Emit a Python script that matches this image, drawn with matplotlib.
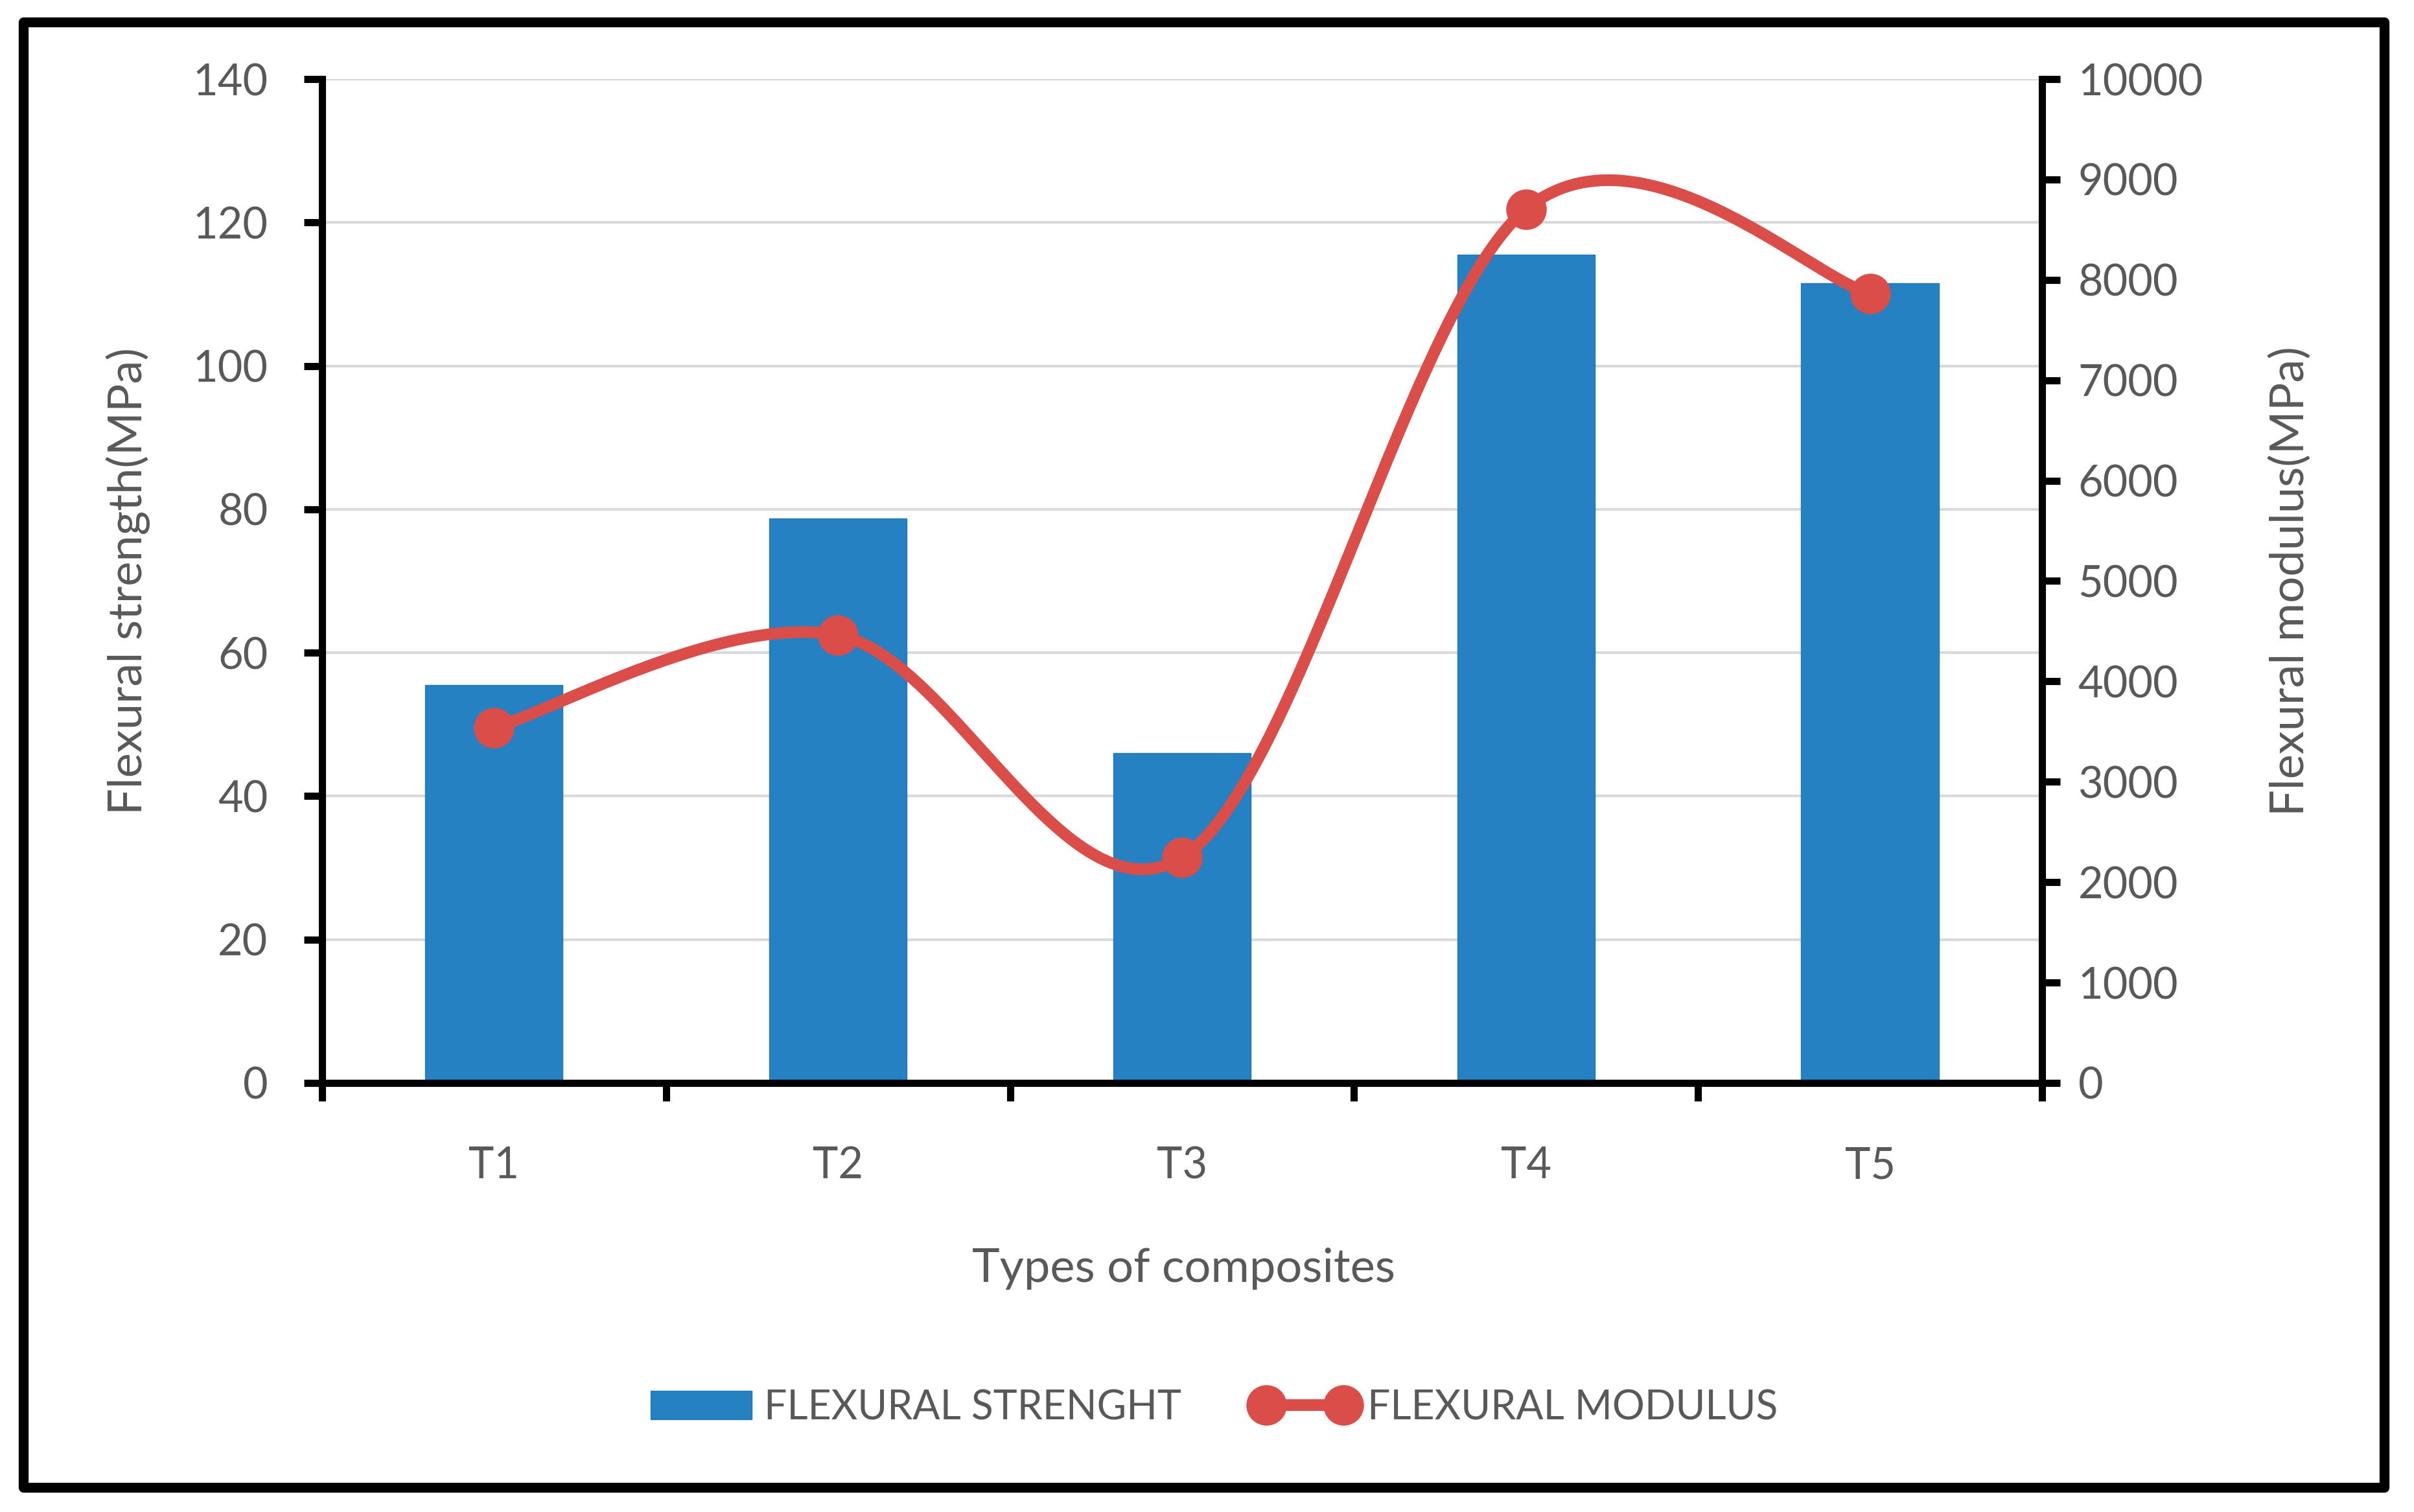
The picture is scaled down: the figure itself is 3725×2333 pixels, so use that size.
import numpy as np
import matplotlib
matplotlib.use('Agg')
import matplotlib.pyplot as plt
from matplotlib.patches import Rectangle
from matplotlib.lines import Line2D
from matplotlib.patches import Patch

categories = ['T1', 'T2', 'T3', 'T4', 'T5']
strength = [55.5, 78.7, 46.0, 115.5, 111.5]
modulus = [3540, 4460, 2245, 8705, 7865]

plt.rcParams['font.family'] = ['Lato', 'DejaVu Sans']
grey = '#595959'
blue = '#2581C1'
red = '#DB4D48'


def smooth(xs, ys, n=60):
    # excel style smoothed line (cubic bezier through the points)
    xs = np.asarray(xs, float)
    ys = np.asarray(ys, float)
    px = np.concatenate([[xs[0]], xs, [xs[-1]]])
    py = np.concatenate([[ys[0]], ys, [ys[-1]]])
    outx, outy = [], []
    t = np.linspace(0, 1, n)
    for i in range(1, len(px) - 2):
        p0 = np.array([px[i], py[i]])
        p3 = np.array([px[i + 1], py[i + 1]])
        c1 = p0 + (np.array([px[i + 1], py[i + 1]]) - np.array([px[i - 1], py[i - 1]])) / 6
        c2 = p3 - (np.array([px[i + 2], py[i + 2]]) - p0) / 6
        b = ((1 - t) ** 3)[:, None] * p0 + (3 * (1 - t) ** 2 * t)[:, None] * c1 \
            + (3 * (1 - t) * t ** 2)[:, None] * c2 + (t ** 3)[:, None] * p3
        outx.extend(b[:, 0])
        outy.extend(b[:, 1])
    return outx, outy


fig = plt.figure(figsize=(37.25, 23.33), dpi=100)
ax = fig.add_axes([0.1334, 0.2838, 0.7125, 0.6639])
x = np.arange(len(categories))

ax.bar(x, strength, width=0.4, color=blue, edgecolor='#1F77BE', linewidth=1, zorder=2)
ax.set_xlim(-0.5, len(categories) - 0.5)
ax.set_ylim(0, 140)
ax.set_yticks(np.arange(0, 141, 20))
ax.yaxis.grid(True, color='#d9d9d9', linewidth=3, zorder=0)
ax.set_axisbelow(True)

ax.set_xticks(x)
ax.set_xticklabels(categories)
ax.set_xticks(np.arange(-0.5, len(categories)), minor=True)
ax.tick_params(axis='x', which='major', length=0, pad=70, labelsize=48, labelcolor=grey)
ax.tick_params(axis='x', which='minor', length=20, width=8, direction='out', color='black')
ax.tick_params(axis='y', length=20, width=8, pad=40, labelsize=48, labelcolor=grey)

for s in ['top', 'right']:
    ax.spines[s].set_visible(False)
for s in ['left', 'bottom']:
    ax.spines[s].set_linewidth(8)
    ax.spines[s].set_color('black')

ax.set_ylabel('Flexural strength(MPa)', fontsize=52, color=grey)
ax.yaxis.set_label_coords(-0.100, 0.5)
ax.set_xlabel('Types of composites', fontsize=52, color=grey)
ax.xaxis.set_label_coords(0.501, -0.164)

ax2 = ax.twinx()
sx, sy = smooth(x, modulus)
ax2.plot(sx, sy, color=red, linewidth=13, solid_capstyle='round', zorder=3)
ax2.plot(x, modulus, 'o', color=red, markersize=44, zorder=4)
ax2.set_ylim(0, 10000)
ax2.set_yticks(np.arange(0, 10001, 1000))
ax2.tick_params(axis='y', length=20, width=8, pad=20, labelsize=48, labelcolor=grey)
for s in ['top', 'left', 'bottom']:
    ax2.spines[s].set_visible(False)
ax2.spines['right'].set_linewidth(8)
ax2.set_ylabel('Flexural modulus(MPa)', fontsize=52, color=grey)
ax2.yaxis.set_label_coords(1.132, 0.5)

handles = [Patch(facecolor=blue, edgecolor='#1F77BE'),
           Line2D([0], [0], color=red, linewidth=13, marker='o', markersize=44)]
fig.legend(handles, ['FLEXURAL STRENGHT', 'FLEXURAL MODULUS'], loc='center',
           bbox_to_anchor=(0.503, 0.069), ncol=2, frameon=False, fontsize=45,
           labelcolor=grey, handlelength=2.5, handletextpad=0.3, columnspacing=1.8,
           numpoints=2)

fig.patches.append(Rectangle((0.0097, 0.0165), 0.978, 0.969, transform=fig.transFigure,
                             fill=False, edgecolor='black', linewidth=11, joinstyle='round'))

fig.savefig('out.png', dpi=100, facecolor='white')
